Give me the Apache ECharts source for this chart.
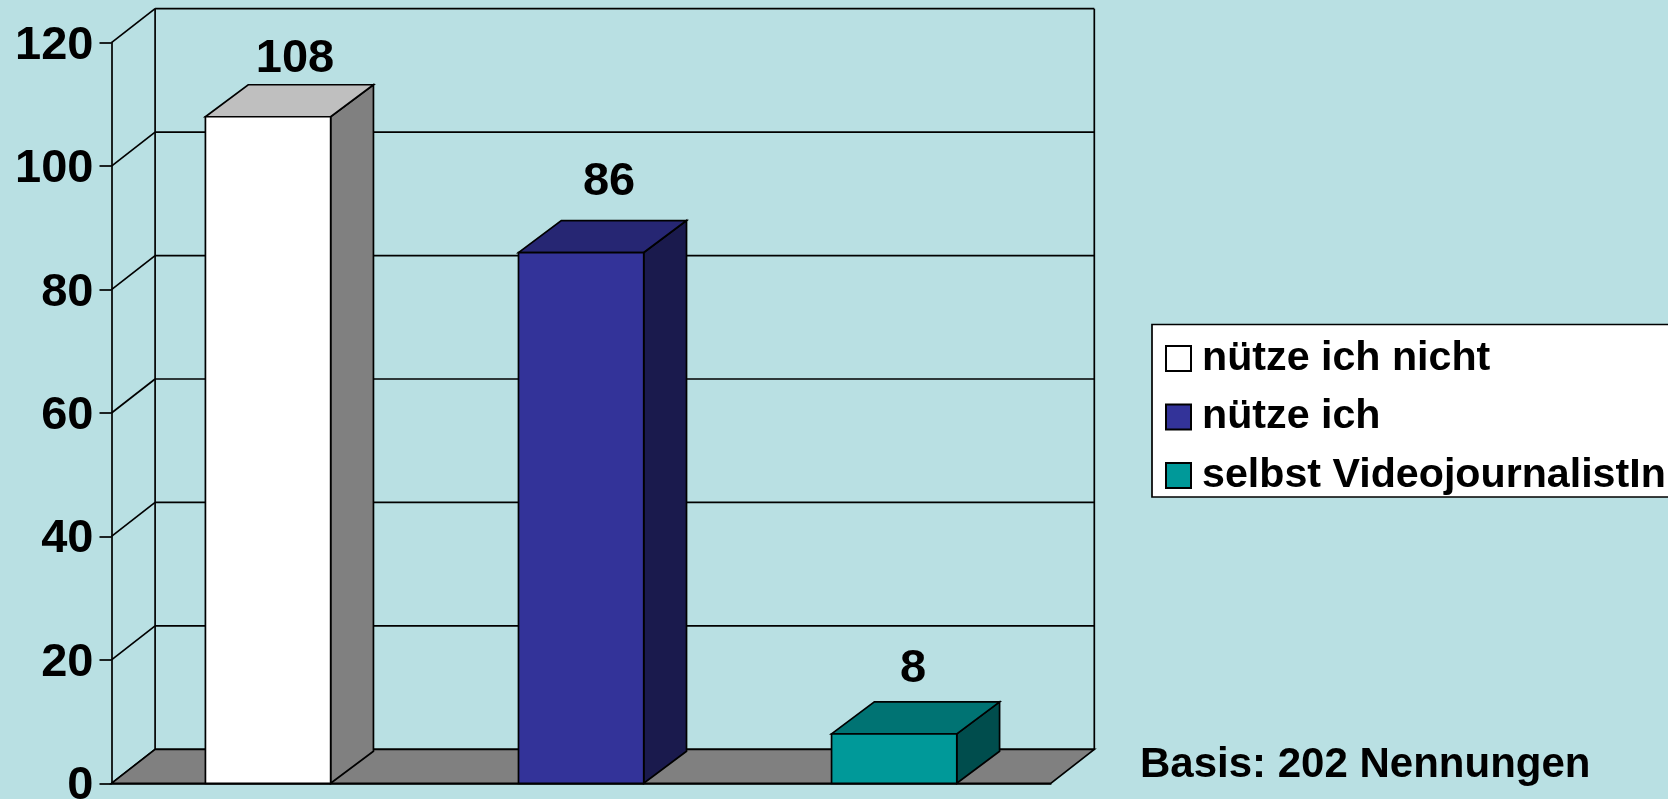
<!DOCTYPE html>
<html><head><meta charset="utf-8">
<script src="https://cdn.jsdelivr.net/npm/echarts@6/dist/echarts.min.js"></script>
<style>html,body{margin:0;padding:0;background:#B9E0E3;overflow:hidden}#c{width:1668px;height:799px}</style>
</head><body><div id="c"></div>
<script>
const categories = ['nütze ich nicht', 'nütze ich', 'selbst VideojournalistIn'];
const values = [108, 86, 8];
const yTicks = [0, 20, 40, 60, 80, 100, 120];
const note = 'Basis: 202 Nennungen';

const faceColors = ['#FFFFFF', '#333399', '#009999'];
const topColors = ['#BFBFBF', '#262673', '#007373'];
const sideColors = ['#808080', '#1A1A4D', '#004D4D'];
const labelLift = [26, 38.5, 33];
const labelShift = [27, 28, 19];

const FONT = '"Liberation Sans", Arial, sans-serif';
const INK = '#000';
const LW = 1.7;
const WALL = {dx: 43.6, dy: -34};
const BAR = {dx: 42.8, dy: -32};
const stroke = {stroke: INK, lineWidth: LW, lineJoin: 'miter'};

function poly(points, fill) {
  return {type: 'polygon', shape: {points}, style: Object.assign({fill}, stroke)};
}
function line(a, b) {
  return {type: 'line', shape: {x1: a[0], y1: a[1], x2: b[0], y2: b[1]}, style: Object.assign({fill: 'none'}, stroke)};
}
function frontEdges(params) {
  return {x0: params.coordSys.x, x1: params.coordSys.x + params.coordSys.width};
}

function renderWall(params, api) {
  const e = frontEdges(params);
  const p = api.coord([0, api.value(0)]);
  const y = p[1];
  const bx0 = e.x0 + WALL.dx, bx1 = e.x1 + WALL.dx, by = y + WALL.dy;
  return {type: 'group', children: [
    line([e.x0, y], [bx0, by]),
    line([bx0, by], [bx1, by])
  ]};
}

function renderFrame(params, api) {
  const e = frontEdges(params);
  const y0 = api.coord([0, 0])[1];
  const yMax = api.coord([0, yTicks[yTicks.length - 1]])[1];
  const bx0 = e.x0 + WALL.dx, bx1 = e.x1 + WALL.dx;
  return {type: 'group', children: [
    poly([[e.x0, y0], [e.x1, y0], [bx1, y0 + WALL.dy], [bx0, y0 + WALL.dy]], '#808080'),
    line([bx0, yMax + WALL.dy], [bx0, y0 + WALL.dy]),
    line([bx1, yMax + WALL.dy], [bx1, y0 + WALL.dy])
  ]};
}

function renderBar(params, api) {
  const i = api.value(0), v = api.value(1);
  const c = api.coord([i, v]);
  const base = api.coord([i, 0])[1];
  const w = api.size([1, 0])[0] * 0.4;
  const xl = c[0] - w / 2, xr = c[0] + w / 2, yt = c[1];
  const d = BAR;
  return {type: 'group', children: [
    poly([[xr, base], [xr + d.dx, base + d.dy], [xr + d.dx, yt + d.dy], [xr, yt]], sideColors[i]),
    poly([[xl, yt], [xr, yt], [xr + d.dx, yt + d.dy], [xl + d.dx, yt + d.dy]], topColors[i]),
    poly([[xl, base], [xr, base], [xr, yt], [xl, yt]], faceColors[i]),
    {type: 'text', style: {
      text: String(v), x: c[0] + labelShift[i], y: yt + d.dy - labelLift[i],
      font: 'bold 47px ' + FONT, fill: INK, textAlign: 'center', textVerticalAlign: 'middle'
    }}
  ]};
}

const barSeries = categories.map((name, i) => ({
  type: 'custom', name, z: 5, renderItem: renderBar,
  encode: {x: 0, y: 1},
  itemStyle: {color: faceColors[i], borderColor: INK, borderWidth: 1.7},
  data: [[i, values[i]]]
}));

const chart = echarts.init(document.getElementById('c'), null, {renderer: 'canvas', width: 1668, height: 799});
chart.setOption({
  animation: false,
  backgroundColor: '#B9E0E3',
  grid: {left: 111.5, right: 617.3, top: 42.7, bottom: 15.7, outerBoundsMode: 'none'},
  xAxis: {
    type: 'category', data: categories, boundaryGap: true,
    axisLine: {lineStyle: {color: INK, width: LW}}, axisTick: {show: false}, axisLabel: {show: false}, splitLine: {show: false}
  },
  yAxis: {
    type: 'value', min: 0, max: 120, interval: 20,
    axisLine: {show: true, lineStyle: {color: INK, width: LW}},
    axisTick: {show: true, length: 12, lineStyle: {color: INK, width: LW}},
    axisLabel: {
      margin: 18, formatter: '{v|{value}}',
      rich: {v: {color: INK, fontFamily: FONT, fontWeight: 'bold', fontSize: 47, lineHeight: 47, padding: [6, 0, 0, 0]}}
    },
    splitLine: {show: false}
  },
  legend: {
    show: true, data: categories, orient: 'vertical', left: 1152, top: 324.5,
    backgroundColor: '#fff', borderColor: INK, borderWidth: 1.7,
    padding: [13.5, 60, 1, 13], itemWidth: 25, itemHeight: 25, itemGap: 17.5, icon: 'rect',
    selectedMode: false,
    textStyle: {color: INK, fontFamily: FONT, fontWeight: 'bold', fontSize: 41.2, lineHeight: 40, padding: [0, 0, 0, 6]}
  },
  graphic: [{
    type: 'text', left: 1140, top: 744,
    style: {text: note, font: 'bold 42px ' + FONT, fill: INK}
  }],
  series: [
    {type: 'custom', name: '_wall', z: 1, renderItem: renderWall, encode: {y: 0}, data: yTicks.map(t => [t]), silent: true},
    {type: 'custom', name: '_frame', z: 2, renderItem: renderFrame, encode: {y: 0}, data: [[0]], silent: true}
  ].concat(barSeries)
});
</script></body></html>
